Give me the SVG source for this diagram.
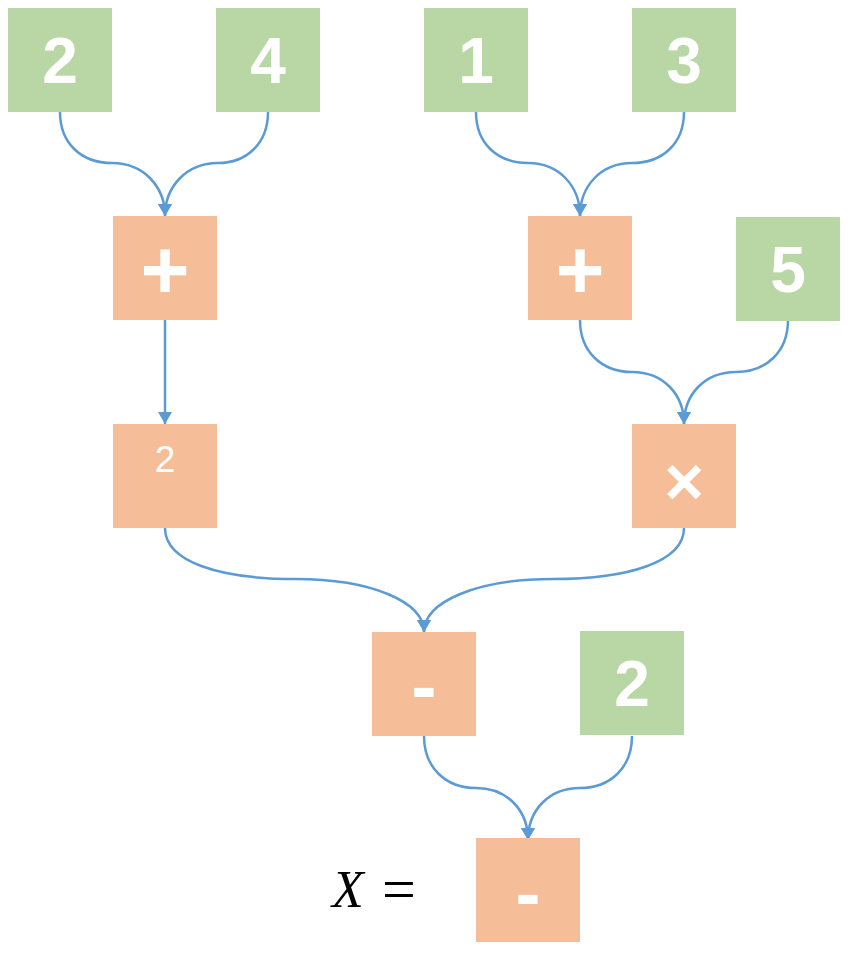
<svg xmlns="http://www.w3.org/2000/svg" width="848" height="971" viewBox="0 0 848 971">
<style>
.g{fill:#B9D7A4}
.o{fill:#F6BE98}
.n{font-family:"Liberation Sans",Arial,sans-serif;font-weight:bold;fill:#fff;text-anchor:middle}
.c{fill:none;stroke:#5B9BD5;stroke-width:2.5;marker-end:url(#ah)}
</style>
<defs>
<marker id="ah" markerUnits="userSpaceOnUse" markerWidth="16" markerHeight="16" refX="12" refY="8" orient="auto">
<path d="M0,1 L12,8 L0,15 z" fill="#5B9BD5"/>
</marker>
</defs>
<rect width="848" height="971" fill="#fff"/>
<g id="connectors">
<path class="c" d="M60,112 C60,144 82,163 112,163 C143,163 165,186 165,216"/>
<path class="c" d="M268,112 C268,144 246,163 218,163 C187,163 165,186 165,216"/>
<path class="c" d="M476,112 C476,144 498,163 528,163 C559,163 580,186 580,216"/>
<path class="c" d="M684,112 C684,144 662,163 632,163 C601,163 580,186 580,216"/>
<path class="c" d="M165,320 L165,424"/>
<path class="c" d="M580,320 C580,352 602,372 632,372 C663,372 684,394 684,424"/>
<path class="c" d="M788,320 C788,352 766,372 736,372 C705,372 684,394 684,424"/>
<path class="c" d="M165,528 C165,562 220,579 295,579 C372,579 424,602 424,632"/>
<path class="c" d="M684,528 C684,562 628,579 553,579 C476,579 424,602 424,632"/>
<path class="c" d="M424,736 C424,768 446,788 476,788 C507,788 528,810 528,840"/>
<path class="c" d="M632,736 C632,768 610,788 580,788 C549,788 528,810 528,840"/>
</g>
<g id="n_2a"><rect class="g" x="8" y="8" width="104" height="104"/><text class="n" x="60" y="83" font-size="64">2</text></g>
<g id="n_4"><rect class="g" x="216" y="8" width="104" height="104"/><text class="n" x="268" y="83" font-size="64">4</text></g>
<g id="n_1"><rect class="g" x="424" y="8" width="104" height="104"/><text class="n" x="476" y="83" font-size="64">1</text></g>
<g id="n_3"><rect class="g" x="632" y="8" width="104" height="104"/><text class="n" x="684" y="83" font-size="64">3</text></g>
<g id="n_plus1"><rect class="o" x="113" y="216" width="104" height="104"/><text class="n" x="165" y="299" font-size="84">+</text></g>
<g id="n_plus2"><rect class="o" x="528" y="216" width="104" height="104"/><text class="n" x="580" y="299" font-size="84">+</text></g>
<g id="n_5"><rect class="g" x="736" y="217" width="104" height="104"/><text class="n" x="788" y="292" font-size="64">5</text></g>
<g id="n_sq"><rect class="o" x="113" y="424" width="104" height="104"/><text x="165" y="472" font-size="37" fill="#fff" text-anchor="middle" font-family="'Liberation Sans',Arial,sans-serif">2</text></g>
<g id="n_times"><rect class="o" x="632" y="424" width="104" height="104"/><text class="n" x="684" y="505" font-size="68">×</text></g>
<g id="n_minus1"><rect class="o" x="372" y="632" width="104" height="104"/><text class="n" x="424" y="712" font-size="76">-</text></g>
<g id="n_2b"><rect class="g" x="580" y="631" width="104" height="104"/><text class="n" x="632" y="706" font-size="64">2</text></g>
<g id="n_minus2"><rect class="o" x="476" y="838" width="104" height="104"/><text class="n" x="528" y="919" font-size="76">-</text></g>
<g id="label">
<text x="332" y="907" font-size="52" font-style="italic" font-family="'Liberation Serif','Times New Roman',serif">X</text>
<text x="382" y="909" font-size="60" font-family="'Liberation Serif','Times New Roman',serif">=</text>
</g>
</svg>
